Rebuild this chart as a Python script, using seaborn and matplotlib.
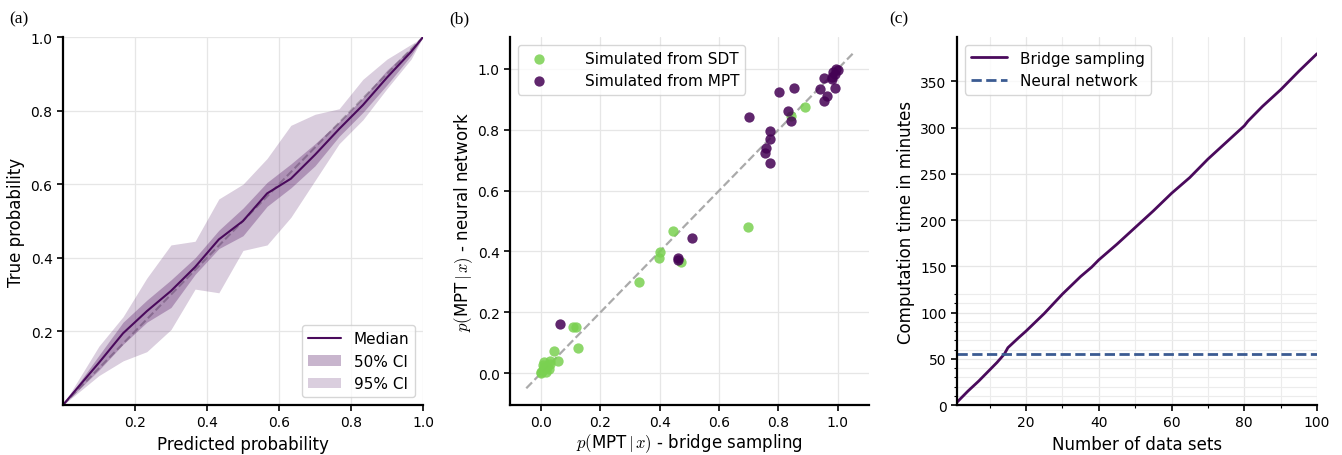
import matplotlib
matplotlib.use("Agg")
import matplotlib.pyplot as plt
import numpy as np
import pandas as pd
import seaborn as sns

# (a) calibration curve
pred_prob = [0.0, 0.1, 0.167, 0.233, 0.3, 0.367, 0.433, 0.5, 0.567, 0.633, 0.7, 0.767, 0.833, 0.9, 0.967, 1.0]
median = [0.0, 0.115, 0.195, 0.255, 0.31, 0.375, 0.45, 0.50, 0.575, 0.615, 0.68, 0.75, 0.815, 0.89, 0.96, 1.0]
upper50 = [0.0, 0.135, 0.225, 0.285, 0.34, 0.40, 0.475, 0.535, 0.605, 0.655, 0.71, 0.77, 0.835, 0.91, 0.97, 1.0]
lower50 = [0.0, 0.095, 0.165, 0.225, 0.265, 0.355, 0.425, 0.46, 0.54, 0.59, 0.65, 0.73, 0.795, 0.87, 0.95, 1.0]
upper95 = [0.0, 0.16, 0.24, 0.345, 0.435, 0.445, 0.56, 0.60, 0.67, 0.76, 0.79, 0.805, 0.885, 0.94, 0.98, 1.0]
lower95 = [0.0, 0.08, 0.12, 0.145, 0.205, 0.315, 0.305, 0.42, 0.435, 0.51, 0.61, 0.71, 0.775, 0.86, 0.94, 1.0]

# (b) bridge sampling vs neural network
sdt_bridge = [0.0, 0.005, 0.01, 0.01, 0.02, 0.025, 0.03, 0.03, 0.015, 0.0, 0.005,
              0.042, 0.058, 0.109, 0.118, 0.126, 0.331, 0.396, 0.401, 0.446, 0.471,
              0.697, 0.842, 0.888]
sdt_nn = [0.0, 0.01, 0.02, 0.035, 0.02, 0.015, 0.03, 0.04, 0.005, 0.005, 0.025,
          0.073, 0.04, 0.153, 0.153, 0.081, 0.30, 0.377, 0.397, 0.466, 0.366,
          0.481, 0.844, 0.874]
mpt_bridge = [0.064, 0.461, 0.463, 0.508, 0.701, 0.755, 0.757, 0.772, 0.770, 0.772,
              0.802, 0.831, 0.843, 0.851, 0.940, 0.952, 0.963, 0.955, 0.991, 0.98,
              0.985, 0.995, 0.99, 1.0, 0.98]
mpt_nn = [0.163, 0.377, 0.373, 0.443, 0.841, 0.724, 0.739, 0.69, 0.77, 0.795,
          0.923, 0.861, 0.828, 0.936, 0.934, 0.894, 0.912, 0.970, 0.936, 0.967,
          0.99, 1.0, 0.985, 0.995, 0.975]

# (c) computation time
n_datasets = [1, 4, 7, 10, 12, 14, 15, 18, 20, 25, 30, 35, 38, 40, 45, 50, 55, 60,
              65, 70, 75, 80, 81, 85, 90, 95, 100]
bridge_minutes = [3, 15, 26, 38, 46, 55, 62, 73, 80, 99, 120, 139, 149, 157, 174, 192,
                  210, 229, 246, 266, 284, 302, 307, 323, 341, 361, 380]
nn_minutes = 55

sns.set_style("ticks")
plt.rcParams["font.family"] = ["DejaVu Sans"]
plt.rcParams["mathtext.fontset"] = "cm"
plt.rcParams["text.color"] = "black"
plt.rcParams["axes.labelcolor"] = "black"
plt.rcParams["xtick.color"] = "black"
plt.rcParams["ytick.color"] = "black"

purple = "#4a0a5c"
grid_kw = dict(color="#e6e6e6", linewidth=0.9)

fig = plt.figure(figsize=(13.42, 4.56), dpi=100)
ax1 = fig.add_axes([0.0469, 0.1096, 0.2683, 0.807])
ax2 = fig.add_axes([0.3800, 0.1096, 0.2675, 0.807])
ax3 = fig.add_axes([0.7131, 0.1096, 0.2683, 0.807])

# ---- (a)
ax1.plot([0, 1], [0, 1], ls="--", color="#bbbbbb", lw=1.5, zorder=1)
ax1.fill_between(pred_prob, lower95, upper95, color=purple, alpha=0.2, lw=0, label="95% CI")
ax1.fill_between(pred_prob, lower50, upper50, color=purple, alpha=0.3, lw=0, label="50% CI")
sns.lineplot(x=pred_prob, y=median, ax=ax1, color=purple, lw=1.5, label="Median")
ax1.set_xlim(0, 1)
ax1.set_ylim(0, 1)
ax1.set_xticks([0.2, 0.4, 0.6, 0.8, 1.0])
ax1.set_yticks([0.2, 0.4, 0.6, 0.8, 1.0])
ax1.grid(True, **grid_kw)
ax1.set_xlabel("Predicted probability", fontsize=12)
ax1.set_ylabel("True probability", fontsize=12)
h, l = ax1.get_legend_handles_labels()
order = [l.index("Median"), l.index("50% CI"), l.index("95% CI")]
ax1.legend([h[i] for i in order], [l[i] for i in order], loc="lower right",
           fontsize=11, handlelength=2.2)

# ---- (b)
ax2.plot([-0.05, 1.05], [-0.05, 1.05], ls="--", color="#aaaaaa", lw=1.6, zorder=1)
sns.scatterplot(x=sdt_bridge, y=sdt_nn, ax=ax2, color="#7ad151", alpha=0.85,
                s=55, linewidth=0, label="Simulated from SDT", zorder=2)
sns.scatterplot(x=mpt_bridge, y=mpt_nn, ax=ax2, color="#440154", alpha=0.85,
                s=55, linewidth=0, label="Simulated from MPT", zorder=3)
ax2.set_xticks([0.0, 0.2, 0.4, 0.6, 0.8, 1.0])
ax2.set_yticks([0.0, 0.2, 0.4, 0.6, 0.8, 1.0])
ax2.set_xlim(-0.105, 1.105)
ax2.set_ylim(-0.105, 1.105)
ax2.grid(True, **grid_kw)
ax2.set_xlabel(r"$p($MPT$\,|\,x)$ - bridge sampling", fontsize=12, labelpad=1)
ax2.set_ylabel(r"$p($MPT$\,|\,x)$ - neural network", fontsize=12, labelpad=2)
ax2.legend(loc="upper left", fontsize=11, handletextpad=2.0)

# ---- (c)
sns.lineplot(x=n_datasets, y=bridge_minutes, ax=ax3, color=purple, lw=2,
             label="Bridge sampling")
ax3.axhline(nn_minutes, ls="--", color="#3b5b92", lw=2, label="Neural network")
ax3.set_xlim(1, 100)
ax3.set_ylim(0, 398)
ax3.set_xticks([20, 40, 60, 80, 100])
ax3.set_yticks([0, 50, 100, 150, 200, 250, 300, 350])
ax3.set_xticks([10, 30, 50, 70, 90], minor=True)
ax3.set_yticks([10, 20, 30, 40, 60, 70, 80, 90, 110, 120], minor=True)
ax3.grid(True, which="major", **grid_kw)
ax3.grid(True, which="minor", color="#ececec", linewidth=0.8)
ax3.set_xlabel("Number of data sets", fontsize=12)
ax3.set_ylabel("Computation time in minutes", fontsize=12)
ax3.legend(loc="upper left", fontsize=11, handlelength=2.4)

for ax in (ax1, ax2, ax3):
    sns.despine(ax=ax)
    for sp in ("left", "bottom"):
        ax.spines[sp].set_linewidth(1.6)
        ax.spines[sp].set_color("black")
    ax.tick_params(labelsize=10, width=1.2, length=4)
    ax.tick_params(which="minor", length=2.5, width=0.8)

for x, t in [(0.007, "(a)"), (0.335, "(b)"), (0.663, "(c)")]:
    fig.text(x, 0.975, t, fontsize=12.5, family="Liberation Serif", va="top")

fig.savefig("out.png", dpi=100)
